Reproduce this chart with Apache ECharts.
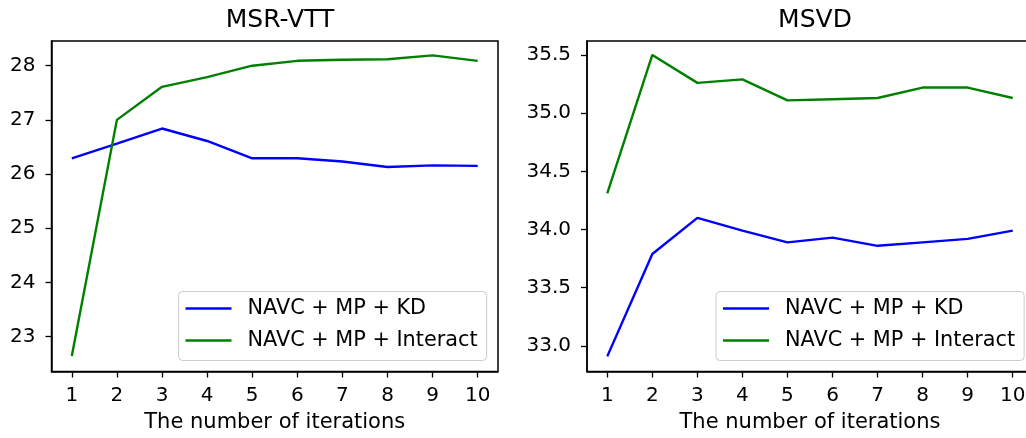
<!DOCTYPE html>
<html>
<head>
<meta charset="utf-8">
<script src="https://cdn.jsdelivr.net/npm/echarts@6/dist/echarts.min.js"></script>
<style>
html,body{margin:0;padding:0;background:#fff;}
#c{width:1026px;height:438px;}
</style>
</head>
<body>
<div id="c"></div>
<script>
const iterations = [1, 2, 3, 4, 5, 6, 7, 8, 9, 10];
const seriesNames = ['NAVC + MP + KD', 'NAVC + MP + Interact'];
const msrvttKD = [26.29, 26.56, 26.84, 26.61, 26.29, 26.29, 26.23, 26.13, 26.16, 26.15];
const msrvttInteract = [22.64, 27.00, 27.61, 27.79, 28.00, 28.09, 28.11, 28.12, 28.19, 28.09];
const msvdKD = [32.91, 33.79, 34.10, 33.99, 33.89, 33.93, 33.86, 33.89, 33.92, 33.99];
const msvdInteract = [34.31, 35.50, 35.26, 35.29, 35.11, 35.12, 35.13, 35.22, 35.22, 35.13];
const xTicks = [1, 2, 3, 4, 5, 6, 7, 8, 9, 10];
const leftYTicks = [23, 24, 25, 26, 27, 28];
const rightYTicks = [33.0, 33.5, 34.0, 34.5, 35.0, 35.5];
const titles = ['MSR-VTT', 'MSVD'];
const xLabel = 'The number of iterations';

const FONT = 'DejaVu Sans';
const colors = ['#0000ff', '#008000'];
const pairs = (xs, ys) => xs.map((x, i) => [x, ys[i]]);

function xAxis(gi) {
  return {
    type: 'value', gridIndex: gi, min: 0.55, max: 10.45,
    name: xLabel, nameLocation: 'middle', nameGap: 41,
    nameTextStyle: {fontFamily: FONT, fontSize: 21, color: '#000'},
    axisLine: {show: true, lineStyle: {color: '#000', width: 1.5}},
    axisTick: {show: true, length: 6, customValues: xTicks, lineStyle: {color: '#000', width: 1.3}},
    axisLabel: {customValues: xTicks, margin: 14, fontFamily: FONT, fontSize: 20, color: '#000'},
    splitLine: {show: false}
  };
}
function yAxis(gi, min, max, ticks, fmt) {
  return {
    type: 'value', gridIndex: gi, min: min, max: max,
    axisLine: {show: true, lineStyle: {color: '#000', width: 1.5}},
    axisTick: {show: true, length: 6, customValues: ticks, lineStyle: {color: '#000', width: 1.3}},
    axisLabel: {customValues: ticks, margin: 16, fontFamily: FONT, fontSize: 20, color: '#000', formatter: fmt},
    splitLine: {show: false}
  };
}
function legend(left) {
  return {
    orient: 'vertical', left: left, top: 291.5,
    data: seriesNames, icon: 'rect', itemWidth: 46, itemHeight: 2.4, itemGap: 10,
    padding: [6, 9, 9, 7],
    borderColor: '#cccccc', borderWidth: 1, borderRadius: 4, backgroundColor: 'rgba(255,255,255,0.8)',
    textStyle: {fontFamily: FONT, fontSize: 20.8, color: '#000', lineHeight: 22, padding: [0, 0, 0, 11]},
    selectedMode: false
  };
}
function line(name, gi, data, color) {
  return {
    type: 'line', name: name, xAxisIndex: gi, yAxisIndex: gi,
    data: data, showSymbol: false, symbol: 'none', animation: false,
    lineStyle: {color: color, width: 2.4}, itemStyle: {color: color}, z: 3
  };
}

const chart = echarts.init(document.getElementById('c'), null, {renderer: 'canvas'});
chart.setOption({
  backgroundColor: '#fff',
  animation: false,
  title: [
    {text: titles[0], left: 275, top: 3, textAlign: 'center', textStyle: {fontFamily: FONT, fontSize: 25, fontWeight: 'normal', color: '#000'}},
    {text: titles[1], left: 810, top: 3, textAlign: 'center', textStyle: {fontFamily: FONT, fontSize: 25, fontWeight: 'normal', color: '#000'}}
  ],
  grid: [
    {left: 51.5, top: 41, width: 446.5, height: 330.5, show: true, borderColor: '#000', borderWidth: 1.5, backgroundColor: 'transparent', outerBoundsMode: 'none', containLabel: false},
    {left: 587, top: 41, width: 446, height: 330.5, show: true, borderColor: '#000', borderWidth: 1.5, backgroundColor: 'transparent', outerBoundsMode: 'none', containLabel: false}
  ],
  xAxis: [xAxis(0), xAxis(1)],
  yAxis: [
    yAxis(0, 22.354, 28.456, leftYTicks, v => String(v)),
    yAxis(1, 32.78, 35.62, rightYTicks, v => v.toFixed(1))
  ],
  legend: [legend(178.5), legend(716)],
  series: [
    line(seriesNames[0], 0, pairs(iterations, msrvttKD), colors[0]),
    line(seriesNames[1], 0, pairs(iterations, msrvttInteract), colors[1]),
    line(seriesNames[0], 1, pairs(iterations, msvdKD), colors[0]),
    line(seriesNames[1], 1, pairs(iterations, msvdInteract), colors[1])
  ]
});
</script>
</body>
</html>
